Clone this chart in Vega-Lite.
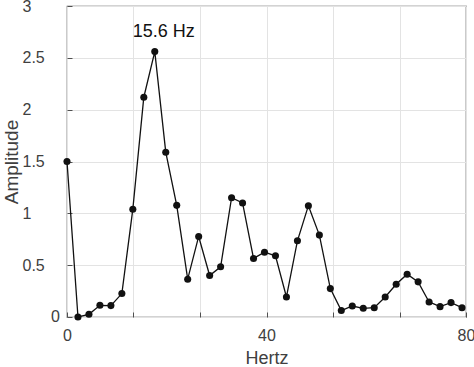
{
  "$schema": "https://vega.github.io/schema/vega-lite/v6.json",
  "autosize": {"type": "none"},
  "padding": {"left": 67, "top": 6, "right": 8, "bottom": 50},
  "width": 399,
  "height": 311,
  "background": "white",
  "config": {
    "font": "Liberation Sans",
    "view": {"stroke": "#505050", "strokeWidth": 1.2},
    "axis": {
      "gridColor": "#e3e3e3",
      "gridWidth": 1,
      "domain": false,
      "tickColor": "#505050",
      "tickSize": -5,
      "labelColor": "#404040",
      "labelFontSize": 16,
      "labelFlush": false,
      "labelBound": false,
      "titleColor": "#404040",
      "titleFontSize": 18,
      "titleFontWeight": "normal"
    }
  },
  "datasets": {
    "spec": [
      {"Hertz": 0.0, "Amplitude": 1.50},
      {"Hertz": 2.2, "Amplitude": 0.0},
      {"Hertz": 4.4, "Amplitude": 0.026},
      {"Hertz": 6.6, "Amplitude": 0.113},
      {"Hertz": 8.8, "Amplitude": 0.11},
      {"Hertz": 11.0, "Amplitude": 0.226},
      {"Hertz": 13.2, "Amplitude": 1.04},
      {"Hertz": 15.4, "Amplitude": 2.12},
      {"Hertz": 17.6, "Amplitude": 2.56},
      {"Hertz": 19.8, "Amplitude": 1.59},
      {"Hertz": 22.0, "Amplitude": 1.077},
      {"Hertz": 24.2, "Amplitude": 0.365},
      {"Hertz": 26.4, "Amplitude": 0.777},
      {"Hertz": 28.6, "Amplitude": 0.40},
      {"Hertz": 30.8, "Amplitude": 0.484},
      {"Hertz": 33.0, "Amplitude": 1.151},
      {"Hertz": 35.2, "Amplitude": 1.10},
      {"Hertz": 37.4, "Amplitude": 0.565},
      {"Hertz": 39.6, "Amplitude": 0.625},
      {"Hertz": 41.8, "Amplitude": 0.59},
      {"Hertz": 44.0, "Amplitude": 0.193},
      {"Hertz": 46.2, "Amplitude": 0.735},
      {"Hertz": 48.4, "Amplitude": 1.074},
      {"Hertz": 50.6, "Amplitude": 0.79},
      {"Hertz": 52.8, "Amplitude": 0.274},
      {"Hertz": 55.0, "Amplitude": 0.062},
      {"Hertz": 57.2, "Amplitude": 0.106},
      {"Hertz": 59.4, "Amplitude": 0.084},
      {"Hertz": 61.6, "Amplitude": 0.09},
      {"Hertz": 63.8, "Amplitude": 0.193},
      {"Hertz": 66.0, "Amplitude": 0.316},
      {"Hertz": 68.2, "Amplitude": 0.413},
      {"Hertz": 70.4, "Amplitude": 0.339},
      {"Hertz": 72.6, "Amplitude": 0.145},
      {"Hertz": 74.8, "Amplitude": 0.10},
      {"Hertz": 77.0, "Amplitude": 0.139},
      {"Hertz": 79.2, "Amplitude": 0.09}
    ],
    "notes": [
      {"Hertz": 17.6, "Amplitude": 2.56, "text": "15.6 Hz", "kind": "peak"},
      {"Hertz": 0, "Amplitude": 0, "text": "0", "kind": "zero"}
    ]
  },
  "encoding": {
    "x": {
      "field": "Hertz",
      "type": "quantitative",
      "scale": {"domain": [0, 80], "nice": false, "zero": false},
      "axis": {
        "title": "Hertz",
        "values": [0, 13.3333, 26.6667, 40, 53.3333, 66.6667, 80],
        "labelExpr": "(datum.value == 0 || datum.value == 40 || datum.value == 80) ? format(datum.value, 'd') : ''",
        "labelPadding": 15,
        "titlePadding": 6
      }
    },
    "y": {
      "field": "Amplitude",
      "type": "quantitative",
      "scale": {"domain": [0, 3], "nice": false},
      "axis": {
        "title": "Amplitude",
        "titleFontSize": 19,
        "values": [0, 0.5, 1, 1.5, 2, 2.5, 3],
        "labelExpr": "datum.value == 0 ? '' : format(datum.value, '~g')",
        "labelAlign": "left",
        "labelPadding": 50,
        "titlePadding": 1
      }
    }
  },
  "layer": [
    {
      "data": {"name": "spec"},
      "mark": {"type": "line", "color": "#111111", "strokeWidth": 1.3}
    },
    {
      "data": {"name": "spec"},
      "mark": {"type": "point", "filled": true, "color": "#111111", "opacity": 1, "size": 50}
    },
    {
      "data": {"name": "notes"},
      "transform": [{"filter": "datum.kind == 'peak'"}],
      "mark": {"type": "text", "fontSize": 18, "color": "#111111", "dx": 9, "dy": -20, "font": "Liberation Sans"},
      "encoding": {"text": {"field": "text"}}
    },
    {
      "data": {"name": "notes"},
      "transform": [{"filter": "datum.kind == 'zero'"}],
      "mark": {"type": "text", "fontSize": 16, "color": "#404040", "dx": -7, "align": "right", "baseline": "middle", "font": "Liberation Sans"},
      "encoding": {"text": {"field": "text"}}
    }
  ]
}
